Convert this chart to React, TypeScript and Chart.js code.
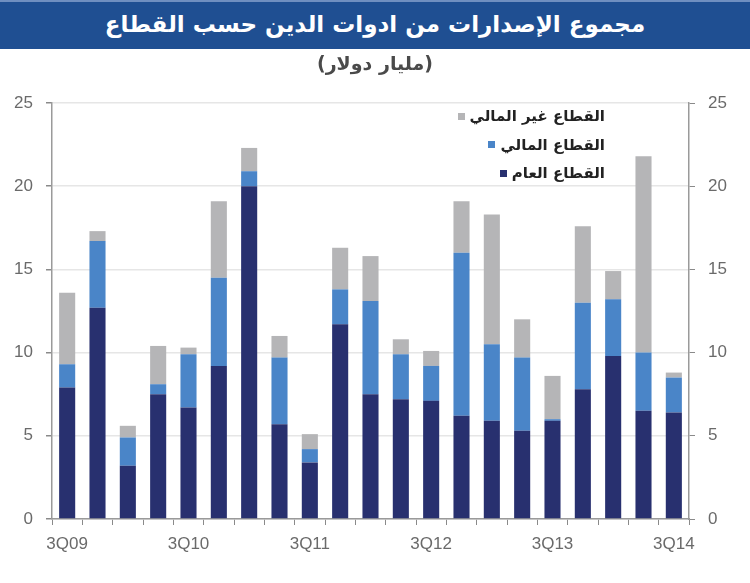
import React, { useEffect, useRef } from "react"
import { Chart, registerables } from "chart.js"

Chart.register(...registerables)

const QUARTERS = [
    "3Q09", "4Q09", "1Q10", "2Q10", "3Q10", "4Q10", "1Q11", "2Q11", "3Q11", "4Q11", "1Q12",
    "2Q12", "3Q12", "4Q12", "1Q13", "2Q13", "3Q13", "4Q13", "1Q14", "2Q14", "3Q14",
]

// billions of dollars, stacked bottom to top
const PUBLIC_SECTOR = [7.9, 12.7, 3.2, 7.5, 6.7, 9.2, 20.0, 5.7, 3.4, 11.7, 7.5, 7.2, 7.1, 6.2, 5.9, 5.3, 5.9, 7.8, 9.8, 6.5, 6.4]
const FINANCIAL_SECTOR = [1.4, 4.0, 1.7, 0.6, 3.2, 5.3, 0.9, 4.0, 0.8, 2.1, 5.6, 2.7, 2.1, 9.8, 4.6, 4.4, 0.1, 5.2, 3.4, 3.5, 2.1]
const NON_FINANCIAL_SECTOR = [4.3, 0.6, 0.7, 2.3, 0.4, 4.6, 1.4, 1.3, 0.9, 2.5, 2.7, 0.9, 0.9, 3.1, 7.8, 2.3, 2.6, 4.6, 1.7, 11.8, 0.3]

const SERIES_NAMES = ["القطاع العام", "القطاع المالي", "القطاع غير المالي"]
const SERIES_COLORS = ["#28306f", "#4a85c8", "#b5b5b7"]

const TITLE = "مجموع الإصدارات من ادوات الدين حسب القطاع"
const SUBTITLE = "(مليار دولار)"

const Y_MAX = 25
const Y_STEP = 5

const tickFont = { family: "'Liberation Sans', Arial, sans-serif", size: 17 }

export default function App() {
    const chartRef = useRef<HTMLCanvasElement>(null)
    const chartInstance = useRef<Chart | null>(null)

    useEffect(() => {
        document.body.style.margin = "0"
        if (!chartRef.current) return
        if (chartInstance.current) chartInstance.current.destroy()
        const ctx = chartRef.current.getContext("2d")
        if (!ctx) return

        const values = [PUBLIC_SECTOR, FINANCIAL_SECTOR, NON_FINANCIAL_SECTOR]

        chartInstance.current = new Chart(ctx, {
            type: "bar",
            data: {
                labels: QUARTERS,
                datasets: values.map((data, i) => ({
                    label: SERIES_NAMES[i],
                    data,
                    backgroundColor: SERIES_COLORS[i],
                    borderWidth: 0,
                    barPercentage: 0.53,
                    categoryPercentage: 1,
                    yAxisID: "y",
                })),
            },
            options: {
                responsive: false,
                animation: false,
                layout: { padding: { top: 103, left: 0, right: 0, bottom: 0 } },
                plugins: {
                    legend: { display: false },
                    tooltip: { enabled: false },
                },
                scales: {
                    x: {
                        stacked: true,
                        grid: {
                            drawOnChartArea: false,
                            drawTicks: true,
                            tickLength: 6,
                            tickColor: "#8a8a8a",
                            offset: true,
                        },
                        border: { color: "#9a9a9a", width: 1.5 },
                        ticks: {
                            autoSkip: false,
                            maxRotation: 0,
                            padding: 9,
                            color: "#6a6a6a",
                            font: { ...tickFont, size: 17 },
                            callback: (_v, i) => (i % 4 === 0 ? QUARTERS[i] : ""),
                        },
                        afterFit: (scale) => {
                            scale.height = 64
                        },
                    },
                    y: {
                        stacked: true,
                        position: "left",
                        min: 0,
                        max: Y_MAX,
                        grid: {
                            color: "#e6e6e6",
                            lineWidth: 1.5,
                            tickColor: "#8a8a8a",
                            tickLength: 6,
                        },
                        border: { color: "#9a9a9a", width: 1.5 },
                        ticks: {
                            stepSize: Y_STEP,
                            padding: 13,
                            color: "#6a6a6a",
                            font: tickFont,
                        },
                        afterFit: (scale) => {
                            scale.width = 52
                        },
                    },
                    y2: {
                        position: "right",
                        min: 0,
                        max: Y_MAX,
                        grid: {
                            drawOnChartArea: false,
                            tickColor: "#8a8a8a",
                            tickLength: 6,
                        },
                        border: { color: "#9a9a9a", width: 1.5 },
                        ticks: {
                            stepSize: Y_STEP,
                            padding: 13,
                            color: "#6a6a6a",
                            font: tickFont,
                        },
                        afterFit: (scale) => {
                            scale.width = 61
                        },
                    },
                },
            },
        })

        return () => {
            if (chartInstance.current) {
                chartInstance.current.destroy()
                chartInstance.current = null
            }
        }
    }, [])

    const legendOrder = [2, 1, 0]

    return (
        <div style={{ position: "relative", width: 750, height: 583, background: "#fff", overflow: "hidden" }}>
            <canvas ref={chartRef} width={750} height={583} style={{ position: "absolute", left: 0, top: 0 }} />
            <div
                style={{
                    position: "absolute",
                    left: 0,
                    top: 0,
                    width: 750,
                    height: 49,
                    background: "#1f4f92",
                    borderTop: "2px solid #6f8fc0",
                    boxSizing: "border-box",
                    color: "#fff",
                    fontFamily: "'DejaVu Sans', sans-serif",
                    fontWeight: "bold",
                    fontSize: 23,
                    lineHeight: "45px",
                    textAlign: "center",
                    direction: "rtl",
                }}
            >
                {TITLE}
            </div>
            <div
                style={{
                    position: "absolute",
                    left: 0,
                    top: 52,
                    width: 750,
                    textAlign: "center",
                    direction: "rtl",
                    fontFamily: "'DejaVu Sans', sans-serif",
                    fontWeight: "bold",
                    fontSize: 19,
                    color: "#4a4a4a",
                }}
            >
                {SUBTITLE}
            </div>
            <div style={{ position: "absolute", left: 458, top: 102, width: 147, direction: "rtl" }}>
                {legendOrder.map((i) => (
                    <div
                        key={i}
                        style={{
                            display: "flex",
                            alignItems: "center",
                            height: 28.5,
                            fontFamily: "'DejaVu Sans', sans-serif",
                            fontWeight: "bold",
                            fontSize: 15,
                            color: "#222",
                            whiteSpace: "nowrap",
                        }}
                    >
                        <span>{SERIES_NAMES[i]}</span>
                        <span
                            style={{
                                display: "inline-block",
                                width: 7,
                                height: 7,
                                marginRight: 5,
                                background: SERIES_COLORS[i],
                            }}
                        />
                    </div>
                ))}
            </div>
        </div>
    )
}
